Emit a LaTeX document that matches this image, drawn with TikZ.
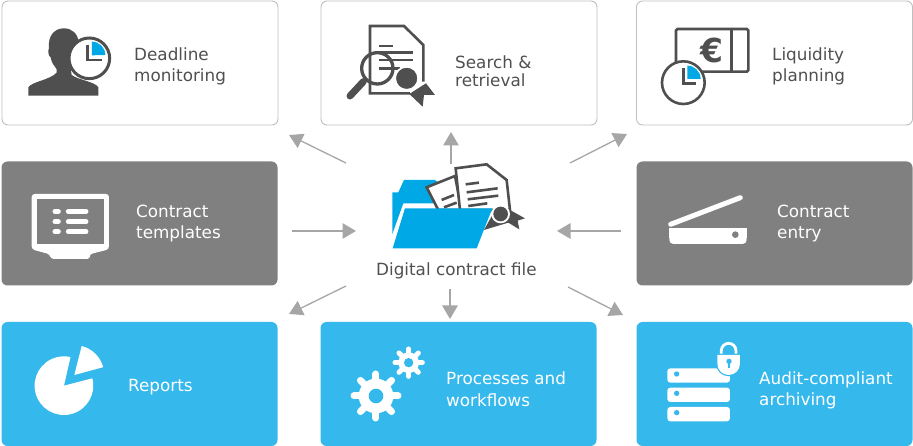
\documentclass[tikz,border=0pt]{standalone}
\usepackage{fontspec}
\setmainfont{DejaVu Sans}
\usetikzlibrary{arrows.meta}
\definecolor{boxgray}{HTML}{808080}
\definecolor{boxblue}{HTML}{35B8EC}
\definecolor{iconblue}{HTML}{00A8E6}
\definecolor{icondark}{HTML}{4F4F4F}
\definecolor{textdark}{HTML}{505050}
\definecolor{linegray}{HTML}{A6A6A6}
\tikzset{%
    box/.style={rectangle,rounded corners=6pt,minimum width=276pt,minimum height=124pt,inner sep=0pt},
    whitebox/.style={box,draw=black!25,line width=0.9pt,fill=white},
    graybox/.style={box,fill=boxgray},
    bluebox/.style={box,fill=boxblue},
    lbl/.style={font=\fontsize{16.8}{21}\selectfont,anchor=base west,inner sep=0pt,align=left},
    dlbl/.style={lbl,text=textdark},
    wlbl/.style={lbl,text=white},
    pra/.style={draw=linegray,line width=1.3pt,-{Triangle[length=13.5pt,width=15.5pt]}},
    ink/.style={draw=icondark,line width=2.6pt}
}
\newcommand{\drawgear}[5]{% x, y, body radius, tooth line radius, tooth width
    \foreach \ang in {0,45,...,315}
        \draw[white,line width=#5,line cap=round] (#1,#2) -- +(\ang:#4);
    \fill[white] (#1,#2) circle[radius=#3];
}
\begin{document}
\begin{tikzpicture}[x=1pt,y=-1pt]
    \useasboundingbox (0,0) rectangle (913,446);
    % boxes
    \node[whitebox] (monitoring) at (140,63) {};
    \node[whitebox] (search) at (459,63) {};
    \node[whitebox] (liquidity) at (774.5,63) {};
    \node[graybox] (templates) at (139.5,223.5) {};
    \node[graybox] (entry) at (774.5,223.5) {};
    \node[bluebox] (reports) at (139.5,384) {};
    \node[bluebox] (processes) at (458.5,384) {};
    \node[bluebox] (archiving) at (774.5,384) {};
    % labels
    \node[dlbl] (monitoringtext) at (134,82) {Deadline\\monitoring};
    \node[dlbl,font=\fontsize{16.8}{18}\selectfont] (searchtext) at (455,87) {Search \&\\retrieval};
    \node[dlbl] (liquiditytext) at (772,82) {Liquidity\\planning};
    \node[wlbl] (templatestext) at (136,238.5) {Contract\\templates};
    \node[wlbl] (entrytext) at (777,238.5) {Contract\\entry};
    \node[wlbl] (reportstext) at (128,391) {Reports};
    \node[wlbl] (processestext) at (446,406) {Processes and\\workflows};
    \node[wlbl] (archivingtext) at (759,405) {Audit-compliant\\archiving};
    \node[dlbl] (filetext) at (376,276) {Digital contract file};
    % arrows
    \coordinate (tlfrom) at (346,163); \coordinate (tlto) at (289,135);
    \coordinate (tfrom) at (451,164); \coordinate (tto) at (451,132);
    \coordinate (trfrom) at (570,163); \coordinate (trto) at (627,134);
    \coordinate (lfrom) at (292,231); \coordinate (lto) at (356,231);
    \coordinate (rfrom) at (621,231); \coordinate (rto) at (557,231);
    \coordinate (blfrom) at (346,286); \coordinate (blto) at (289,314);
    \coordinate (bfrom) at (450,289); \coordinate (bto) at (450,319);
    \coordinate (brfrom) at (568,287); \coordinate (brto) at (623,315);
    \foreach \a/\b in {tlfrom/tlto,tfrom/tto,trfrom/trto,lfrom/lto,rfrom/rto,blfrom/blto,bfrom/bto,brfrom/brto}
        \draw[pra] (\a) -- (\b);
    % deadline icon
    \begin{scope}[scale=0.3333]
        \fill[icondark] (85,287) -- (85,262) .. controls (95,245) and (150,240) .. (170,218) -- (170,208)
            .. controls (162,195) and (155,190) .. (152,172) .. controls (145,170) and (143,150) .. (147,145)
            .. controls (143,105) and (165,85) .. (192,85) .. controls (215,85) and (235,100) .. (236,130)
            -- (225,180) -- (212,205) -- (215,225) .. controls (235,240) and (285,245) .. (295,262) -- (295,287) -- cycle;
        \draw[ink,fill=white,line width=3pt] (268,175) circle[radius=61];
        \fill[iconblue] (276,166) -- (276,125) arc[start angle=-90,end angle=0,radius=40] -- cycle;
        \draw[ink,miter limit=2] (262,135) -- (262,180) -- (305,180);
    \end{scope}
    % search icon
    \begin{scope}[shift={(320,0)},scale=0.3333]
        \draw[ink] (270,280) -- (150,280) -- (150,78) -- (252,78) -- (310,135) -- (310,245);
        \draw[ink] (177,138) -- (220,138) (177,158) -- (280,158) (177,180) -- (280,180) (177,205) -- (240,205);
        \draw[icondark,line width=3.3pt] (172,205) circle[radius=47];
        \draw[icondark,line width=7pt,line cap=round] (130,245) -- (90,288);
        \fill[icondark] (318,250) -- (345,285) -- (312,285) -- (308,320) -- (268,282) -- cycle;
        \draw[icondark,fill=icondark] (260,235) circle[radius=31];
        \draw[white,line width=1.3pt] (260,235) circle[radius=35];
    \end{scope}
    % liquidity icon
    \begin{scope}[shift={(630,0)},scale=0.3333]
        \draw[ink,rounded corners=1.5pt] (138,87) rectangle (355,215);
        \draw[ink] (305,87) -- (305,215);
        \node[text=icondark,font=\fontsize{33}{33}\bfseries\selectfont,inner sep=0pt] (euro) at (245,150) {€};
        \draw[ink,fill=white] (160,248) circle[radius=64];
        \fill[iconblue] (172,237) -- (172,197) arc[start angle=-90,end angle=0,radius=40] -- cycle;
        \draw[ink] (160,205) -- (160,250) -- (197,250);
    \end{scope}
    % templates icon
    \begin{scope}[shift={(0,160)},scale=0.3333]
        \fill[white,rounded corners=3pt] (95,102) -- (327,102) -- (327,268) -- (268,283) -- (270,297) -- (152,297) -- (150,283) -- (95,268) -- cycle;
        \fill[boxgray] (110,117) rectangle (312,252);
        \foreach \yy in {154,185,215} {
            \draw[white,line width=5pt,line cap=round] (165,\yy) -- (175,\yy);
            \draw[white,line width=5pt,line cap=round] (205,\yy) -- (258,\yy);
        }
    \end{scope}
    % entry icon
    \begin{scope}[shift={(630,160)},scale=0.3333]
        \draw[white,line width=5pt,line cap=round] (122,193) -- (331,113);
        \fill[white,rounded corners=4pt] (118,225) -- (118,252) -- (350,252) -- (350,225) -- cycle;
        \fill[white] (118,203) rectangle (350,235);
        \fill[boxgray] (316,224) circle[radius=10];
    \end{scope}
    % reports icon
    \begin{scope}[shift={(0,320)},scale=0.3333]
        \fill[white] (192,197) -- (277,175) arc[start angle=-14.5,end angle=283,radius=88] -- cycle;
        \fill[white] (223,165) -- (245,78) arc[start angle=-75.8,end angle=-15.3,radius=90] -- cycle;
    \end{scope}
    % processes icon
    \begin{scope}[shift={(320,320)},scale=0.3333]
        \drawgear{168}{228}{52}{66}{7pt}
        \fill[boxblue] (168,228) circle[radius=22];
        \drawgear{266}{128}{31}{41}{5pt}
        \fill[boxblue] (266,128) circle[radius=14];
    \end{scope}
    % archiving icon
    \begin{scope}[shift={(630,320)},scale=0.3333]
        \foreach \yy in {145,203,261} {
            \fill[white,rounded corners=3pt] (112,\yy) rectangle (300,\yy+43);
            \fill[boxblue] (140,\yy+17) circle[radius=8];
        }
        \draw[white,line width=2.8pt] (274,108) -- (274,92) arc[start angle=180,end angle=360,radius=22] -- (318,108);
        \draw[boxblue,line width=2.5pt,fill=white] (262,105) -- (330,105) -- (330,130) .. controls (330,150) and (315,165) .. (296,165)
            .. controls (277,165) and (262,150) .. (262,130) -- cycle;
        \fill[white] (262,105) -- (330,105) -- (330,130) .. controls (330,150) and (315,165) .. (296,165)
            .. controls (277,165) and (262,150) .. (262,130) -- cycle;
        \fill[boxblue] (297,124) circle[radius=8];
        \draw[boxblue,line width=1.6pt] (297,124) -- (297,145);
    \end{scope}
    % folder icon
    \begin{scope}[shift={(280,130)},scale=0.3333]
        \fill[iconblue] (337,187) -- (355,187) -- (372,150) -- (465,150) -- (478,160) -- (478,220) -- (370,220) -- (337,312) -- cycle;
        \draw[ink,fill=white] (440,172) -- (525,138) -- (545,240) -- (475,240) -- cycle;
        \draw[ink] (485,210) -- (522,195) (492,232) -- (530,218);
        \draw[ink,fill=white] (527,115) -- (620,103) -- (680,150) -- (690,240) -- (540,240) -- cycle;
        \draw[ink] (557,163) -- (597,158) (560,187) -- (653,175) (563,208) -- (655,197) (565,228) -- (622,220);
        \fill[icondark] (690,240) -- (735,265) -- (713,272) -- (718,298) -- (685,278) -- (612,300) -- (640,250) -- cycle;
        \fill[iconblue] (375,235) -- (637,235) -- (590,355) -- (338,355) -- cycle;
        \fill[white] (662,252) circle[radius=28];
        \fill[icondark] (662,252) circle[radius=22];
    \end{scope}
\end{tikzpicture}
\end{document}
